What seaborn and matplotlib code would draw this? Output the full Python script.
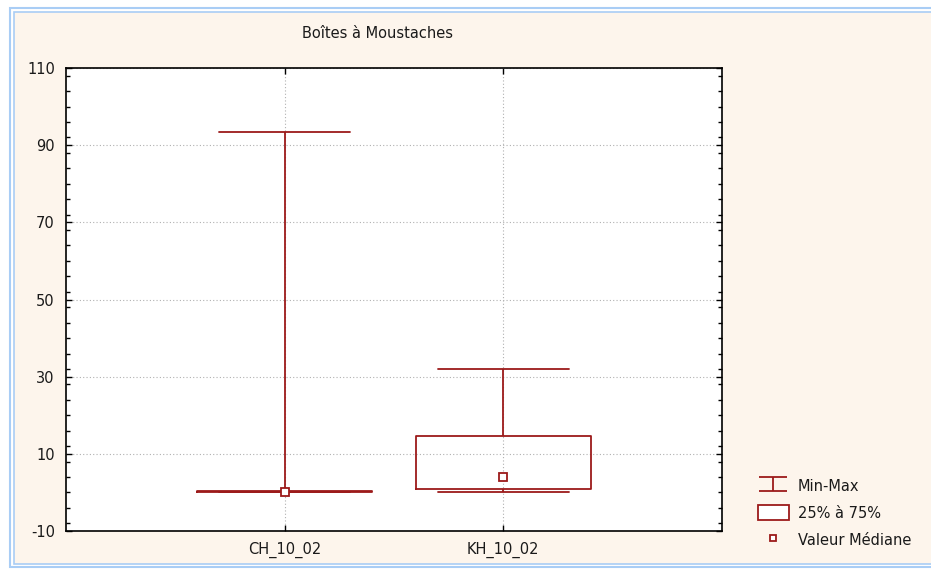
import numpy as np
import pandas as pd
import matplotlib
matplotlib.use("Agg")
import matplotlib.pyplot as plt
from matplotlib.path import Path
from matplotlib.lines import Line2D
from matplotlib.patches import Patch, Rectangle
from matplotlib.ticker import MultipleLocator
import seaborn as sns

# ---- data (five-number summaries) ----
categories = ["CH_10_02", "KH_10_02"]
mins = [0.0, 0.0]
q1s = [0.2, 0.9]
medians = [0.2, 4.1]
q3s = [0.3, 14.6]
maxs = [93.4, 31.9]
yticks = [-10, 10, 30, 50, 70, 90, 110]
title = "Boîtes à Moustaches"
legend_labels = ["Min-Max", "25% à 75%", "Valeur Médiane"]

rows = []
for c, a, b, m, d, e in zip(categories, mins, q1s, medians, q3s, maxs):
    for v in (a, b, m, d, e):
        rows.append({"var": c, "val": v})
df = pd.DataFrame(rows)

RED = "#9c1a1a"
BG = "#fdf5ec"
BLUE = "#a9cdf5"

sns.set_theme(style="white")
plt.rcParams["font.family"] = ["DejaVu Sans"]
plt.rcParams["axes.unicode_minus"] = False

W, H = 931, 569
fig = plt.figure(figsize=(W / 100, H / 100), dpi=100)
fig.patch.set_facecolor("white")

# frame with double light-blue border
r1 = Rectangle((10 / W, 1 - 567 / H), 1.0, (567 - 8) / H,
               transform=fig.transFigure, facecolor="white",
               edgecolor=BLUE, lw=1.5, zorder=-10)
r2 = Rectangle((14 / W, 1 - 564 / H), 1.0, (564 - 12) / H,
               transform=fig.transFigure, facecolor=BG,
               edgecolor=BLUE, lw=1.2, zorder=-9)
fig.patches.extend([r1, r2])

left, right, top, bottom = 66, 722, 68, 531
ax = fig.add_axes([left / W, 1 - bottom / H, (right - left) / W, (bottom - top) / H])
ax.set_zorder(5)
ax.set_facecolor("white")

sns.boxplot(data=df, x="var", y="val", ax=ax, whis=(0, 100), width=0.8,
            fill=False, color=RED, linewidth=1.3, showfliers=False,
            medianprops={"linewidth": 0}, capwidths=0.6, zorder=3)

sns.pointplot(data=df, x="var", y="val", ax=ax, estimator="median",
              errorbar=None, linestyle="none", marker="s", markersize=6,
              markerfacecolor="white", markeredgecolor=RED,
              markeredgewidth=1.3, color=RED, zorder=5)

ax.set_xlim(-1, 2)
ax.set_ylim(-10, 110)
ax.set_yticks(yticks)
ax.yaxis.set_minor_locator(MultipleLocator(4))
ax.set_xlabel("")
ax.set_ylabel("")
ax.grid(True, which="major", color="#b0b0b0", linestyle=(0, (1, 2)), linewidth=0.8)
ax.set_axisbelow(True)
for s in ax.spines.values():
    s.set_color("black")
    s.set_linewidth(1.2)
ax.tick_params(axis="both", which="both", direction="in", top=True, right=True,
               left=True, bottom=True,
               colors="black", labelcolor="#1a1a1a", labelsize=10.5)
ax.tick_params(axis="both", which="major", length=4, width=1, pad=8)
ax.tick_params(axis="y", which="minor", length=3, width=1)

fig.text(377 / W, 1 - 33 / H, title, ha="center", va="center", fontsize=10.5,
         color="#1a1a1a", zorder=6)

# legend
ibar = Path([(-1, 0.5), (1, 0.5), (0, 0.5), (0, -0.5), (-1, -0.5), (1, -0.5)],
            [Path.MOVETO, Path.LINETO, Path.MOVETO, Path.LINETO, Path.MOVETO, Path.LINETO])
handles = [
    Line2D([], [], linestyle="none", marker=ibar, markersize=20,
           markeredgecolor=RED, markerfacecolor="none", markeredgewidth=1.3),
    Patch(facecolor="white", edgecolor=RED, linewidth=1.3),
    Line2D([], [], linestyle="none", marker="s", markersize=5,
           markerfacecolor="white", markeredgecolor=RED, markeredgewidth=1.3),
]
leg = fig.legend(handles, legend_labels, loc="upper left",
                 bbox_to_anchor=(745 / W, 1 - 465 / H), frameon=False,
                 fontsize=10.5, handlelength=2.1, handleheight=1.2,
                 labelspacing=0.8, handletextpad=0.6)
leg.set_zorder(6)
for t in leg.get_texts():
    t.set_color("#1a1a1a")

fig.savefig("out.png", dpi=100, facecolor=fig.get_facecolor())
